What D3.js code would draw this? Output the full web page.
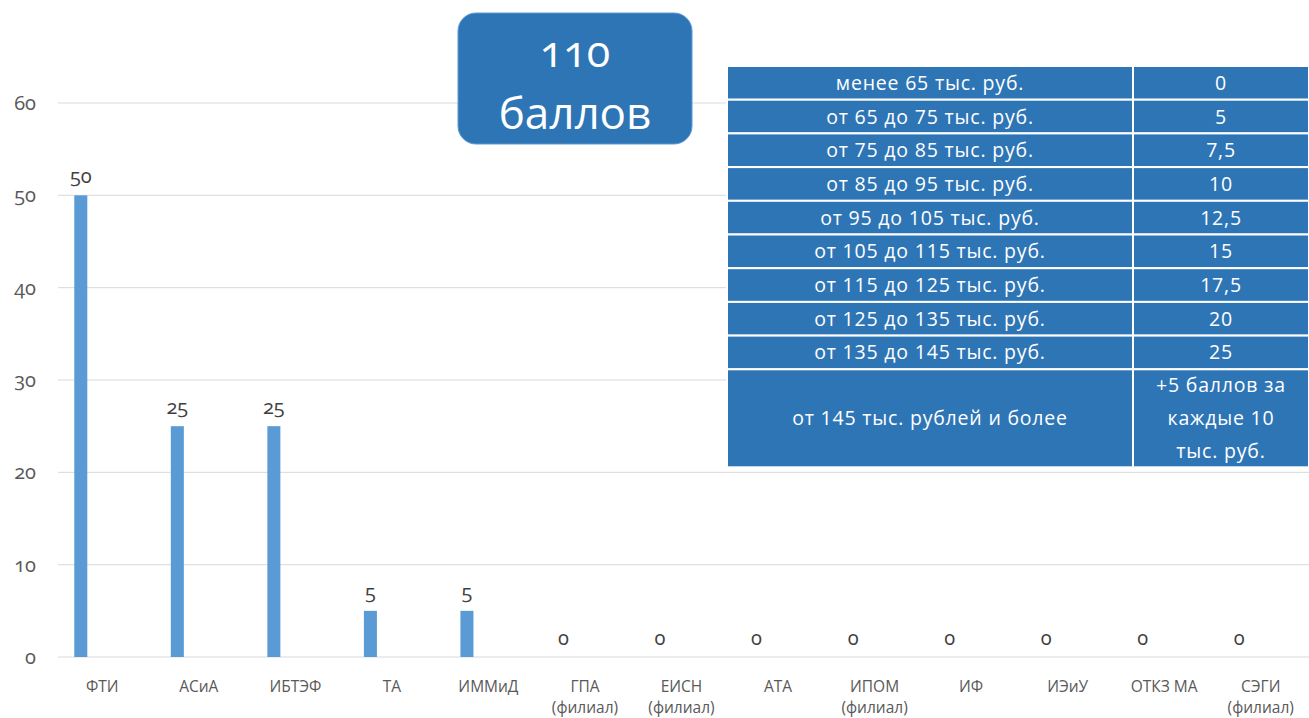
<!doctype html>
<html lang="ru">
<head>
  <meta charset="utf-8">
  <title>Баллы</title>
  <script src="https://d3js.org/d3.v7.min.js"></script>
  <style>
    body { margin: 0; background: #ffffff; }
    svg { display: block; }
    text { font-family: "Open Sans", "Noto Sans", sans-serif; }
    .num { font-variant-numeric: oldstyle-nums; font-feature-settings: "onum" 1; }
  </style>
</head>
<body>
  <div id="chart"></div>
  <script>
    // chart data
    var categories = ["ФТИ", "АСиА", "ИБТЭФ", "ТА", "ИММиД", "ГПА\n(филиал)", "ЕИСН\n(филиал)",
                      "АТА", "ИПОМ\n(филиал)", "ИФ", "ИЭиУ", "ОТКЗ МА", "СЭГИ\n(филиал)"];
    var values = [50, 25, 25, 5, 5, 0, 0, 0, 0, 0, 0, 0, 0];
    var yTicks = [0, 10, 20, 30, 40, 50, 60];

    // scoring table
    var ranges = ["менее 65 тыс. руб.", "от 65 до 75 тыс. руб.", "от 75 до 85 тыс. руб.",
                  "от 85 до 95 тыс. руб.", "от 95 до 105 тыс. руб.", "от 105 до 115 тыс. руб.",
                  "от 115 до 125 тыс. руб.", "от 125 до 135 тыс. руб.", "от 135 до 145 тыс. руб.",
                  "от 145 тыс. рублей и более"];
    var points = ["0", "5", "7,5", "10", "12,5", "15", "17,5", "20", "25",
                  "+5 баллов за\nкаждые 10\nтыс. руб."];
    var badgeLines = ["110", "баллов"];

    var W = 1309, H = 718;
    var svg = d3.select("#chart").append("svg")
        .attr("width", W)
        .attr("height", H);

    var x = d3.scaleBand()
        .domain(categories)
        .range([54, 1309]);

    var y = d3.scaleLinear()
        .domain([0, 60])
        .range([657, 103]);

    // gridlines
    svg.append("g")
        .selectAll("line")
        .data(yTicks)
        .enter()
        .append("line")
            .attr("x1", 58)
            .attr("x2", W)
            .attr("y1", function (d) { return y(d); })
            .attr("y2", function (d) { return y(d); })
            .attr("stroke", "#d9d9d9")
            .attr("stroke-width", 1);

    // y axis labels
    svg.append("g")
        .selectAll("text")
        .data(yTicks)
        .enter()
        .append("text")
            .attr("class", "num")
            .attr("x", 36)
            .attr("y", function (d) { return y(d) + 7; })
            .attr("text-anchor", "end")
            .attr("fill", "#595959")
            .style("font-size", "20px")
            .text(function (d) { return d; });

    var barW = x.bandwidth() * 0.135;
    var barX = function (d, i) { return x(categories[i]) + x.bandwidth() * 0.21; };

    // bars
    svg.append("g")
        .selectAll("rect")
        .data(values)
        .enter()
        .append("rect")
            .attr("x", barX)
            .attr("y", function (d) { return y(d); })
            .attr("width", barW)
            .attr("height", function (d) { return y(0) - y(d); })
            .attr("fill", "#5b9bd5");

    // data labels
    svg.append("g")
        .selectAll("text")
        .data(values)
        .enter()
        .append("text")
            .attr("class", "num")
            .attr("x", function (d, i) { return barX(d, i) + barW / 2; })
            .attr("y", function (d) { return y(d) - 12; })
            .attr("text-anchor", "middle")
            .attr("fill", "#404040")
            .style("font-size", "20px")
            .text(function (d) { return d; });

    // x labels
    var xl = svg.append("g")
        .selectAll("text")
        .data(categories)
        .enter()
        .append("text")
            .attr("x", function (d) { return x(d) + x.bandwidth() / 2; })
            .attr("y", 692)
            .attr("text-anchor", "middle")
            .attr("fill", "#595959")
            .style("font-size", "15.5px");
    xl.selectAll("tspan")
        .data(function (d) { return d.split("\n"); })
        .enter()
        .append("tspan")
            .attr("x", function () { return d3.select(this.parentNode).attr("x"); })
            .attr("dy", function (d, i) { return i === 0 ? 0 : 21; })
            .text(function (d) { return d; });

    // badge
    var badge = svg.append("g");
    badge.append("rect")
        .attr("x", 458)
        .attr("y", 13)
        .attr("width", 234)
        .attr("height", 131)
        .attr("rx", 18)
        .attr("fill", "#2e75b6")
        .attr("stroke", "#5b9bd5")
        .attr("stroke-width", 1);
    badge.append("text")
        .attr("class", "num")
        .attr("x", 575)
        .attr("y", 67)
        .attr("text-anchor", "middle")
        .attr("fill", "#ffffff")
        .style("font-size", "43px")
        .text(badgeLines[0]);
    badge.append("text")
        .attr("x", 575)
        .attr("y", 129)
        .attr("text-anchor", "middle")
        .attr("fill", "#ffffff")
        .style("font-size", "44px")
        .text(badgeLines[1]);

    // table
    var tx0 = 727, tx1 = 1133, tx2 = 1309, ty0 = 66, rowH = 33.7, lastH = 98;
    var rowTop = function (i) { return ty0 + i * rowH; };
    var rowHt = function (i) { return i === ranges.length - 1 ? lastH : rowH; };

    var rows = svg.append("g")
        .selectAll("g")
        .data(ranges)
        .enter()
        .append("g");

    rows.append("rect")
        .attr("x", tx0)
        .attr("y", function (d, i) { return rowTop(i); })
        .attr("width", tx1 - tx0)
        .attr("height", function (d, i) { return rowHt(i); })
        .attr("fill", "#2e75b6")
        .attr("stroke", "#ffffff")
        .attr("stroke-width", 2);
    rows.append("rect")
        .attr("x", tx1)
        .attr("y", function (d, i) { return rowTop(i); })
        .attr("width", tx2 - tx1)
        .attr("height", function (d, i) { return rowHt(i); })
        .attr("fill", "#2e75b6")
        .attr("stroke", "#ffffff")
        .attr("stroke-width", 2);

    rows.append("text")
        .attr("x", (tx0 + tx1) / 2)
        .attr("y", function (d, i) { return rowTop(i) + rowHt(i) / 2 + 7; })
        .attr("text-anchor", "middle")
        .attr("fill", "#ffffff")
        .style("font-size", "19.5px")
        .style("letter-spacing", "0.8px")
        .text(function (d) { return d; });

    var pt = rows.append("text")
        .attr("x", (tx1 + tx2) / 2)
        .attr("y", function (d, i) {
            var n = points[i].split("\n").length;
            return rowTop(i) + rowHt(i) / 2 + 7 - (n - 1) * 16.5;
        })
        .attr("text-anchor", "middle")
        .attr("fill", "#ffffff")
        .style("font-size", "19.5px")
        .style("letter-spacing", "0.8px");
    pt.selectAll("tspan")
        .data(function (d, i) { return points[i].split("\n"); })
        .enter()
        .append("tspan")
            .attr("x", (tx1 + tx2) / 2)
            .attr("dy", function (d, i) { return i === 0 ? 0 : 33; })
            .text(function (d) { return d; });
  </script>
</body>
</html>
